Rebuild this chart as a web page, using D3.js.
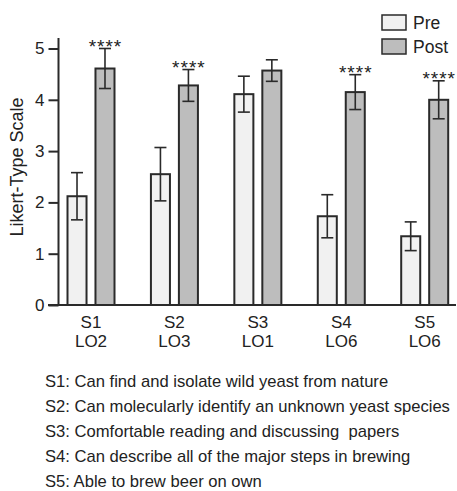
<!DOCTYPE html>
<html>
<head>
<meta charset="utf-8">
<script src="https://cdn.jsdelivr.net/npm/d3@7"></script>
<style>
  body { margin: 0; background: #fff; }
  text { font-family: "Liberation Sans", Arial, sans-serif; fill: #222; }
</style>
</head>
<body>
<div id="chart"></div>
<script>

// statements and learning outcomes
var statements = ["S1", "S2", "S3", "S4", "S5"];
var outcomes = ["LO2", "LO3", "LO1", "LO6", "LO6"];
var groups = ["Pre", "Post"];

// means and error bars
var preMean = [2.12, 2.55, 4.11, 1.73, 1.34];
var preErr = [0.46, 0.52, 0.35, 0.42, 0.28];
var postMean = [4.61, 4.28, 4.57, 4.15, 4.0];
var postErr = [0.39, 0.31, 0.21, 0.34, 0.37];
var stars = ["****", "****", "", "****", "****"];

var yTicks = [0, 1, 2, 3, 4, 5];

var notes = [
  "S1: Can find and isolate wild yeast from nature",
  "S2: Can molecularly identify an unknown yeast species",
  "S3: Comfortable reading and discussing  papers",
  "S4: Can describe all of the major steps in brewing",
  "S5: Able to brew beer on own"
];

var width = 457, height = 491;
var colors = { Pre: "#f1f1f1", Post: "#bdbdbd" };

var svg = d3.select("#chart")
    .append("svg")
        .attr("width", width)
        .attr("height", height);

// scales
var xScale = d3.scalePoint()
    .domain(statements)
    .range([91, 424.7]);

var subScale = d3.scaleBand()
    .domain(groups)
    .range([-23.5, 23.5])
    .paddingInner(0.32)
    .paddingOuter(0);

var yScale = d3.scaleLinear()
    .domain([0, 5])
    .range([305, 48.5]);

// build a flat table of bars
var bars = [];
statements.forEach(function(s, i) {
    bars.push({ s: s, g: "Pre", v: preMean[i], e: preErr[i] });
    bars.push({ s: s, g: "Post", v: postMean[i], e: postErr[i] });
});

// bars
svg.selectAll("rect.bar")
    .data(bars)
    .enter().append("rect")
        .attr("class", "bar")
        .attr("x", function(d) { return xScale(d.s) + subScale(d.g); })
        .attr("y", function(d) { return yScale(d.v); })
        .attr("width", subScale.bandwidth())
        .attr("height", function(d) { return yScale(0) - yScale(d.v); })
        .attr("fill", function(d) { return colors[d.g]; })
        .attr("stroke", "#2a2a2a")
        .attr("stroke-width", 2);

// error bars
var err = svg.selectAll("g.err")
    .data(bars)
    .enter().append("g")
        .attr("class", "err")
        .attr("transform", function(d) {
            return "translate(" + (xScale(d.s) + subScale(d.g) + subScale.bandwidth() / 2) + ",0)";
        })
        .attr("stroke", "#2a2a2a")
        .attr("stroke-width", 1.6);

err.append("line")
    .attr("x1", 0).attr("x2", 0)
    .attr("y1", function(d) { return yScale(d.v + d.e); })
    .attr("y2", function(d) { return yScale(d.v - d.e); });
err.append("line")
    .attr("x1", -6).attr("x2", 6)
    .attr("y1", function(d) { return yScale(d.v + d.e); })
    .attr("y2", function(d) { return yScale(d.v + d.e); });
err.append("line")
    .attr("x1", -6).attr("x2", 6)
    .attr("y1", function(d) { return yScale(d.v - d.e); })
    .attr("y2", function(d) { return yScale(d.v - d.e); });

// significance stars
svg.selectAll("text.star")
    .data(statements)
    .enter().append("text")
        .attr("class", "star")
        .attr("x", function(s) { return xScale(s) + subScale("Post") + subScale.bandwidth() / 2 + 0.5; })
        .attr("y", function(s, i) { return yScale(postMean[i] + postErr[i]) + 4; })
        .attr("text-anchor", "middle")
        .style("font-size", "19px")
        .style("letter-spacing", "1px")
        .text(function(s, i) { return stars[i]; });

// y axis
var yAxis = d3.axisLeft(yScale)
    .tickValues(yTicks)
    .tickSize(10)
    .tickPadding(4)
    .tickFormat(d3.format("d"));

var yg = svg.append("g")
    .attr("transform", "translate(58.5,0)")
    .call(yAxis);
yg.select(".domain").remove();
yg.append("line")
    .attr("x1", 0).attr("x2", 0)
    .attr("y1", 38).attr("y2", 305)
    .attr("stroke", "#2a2a2a")
    .attr("stroke-width", 2);
yg.selectAll(".tick line").attr("stroke", "#2a2a2a").attr("stroke-width", 2);
yg.selectAll(".tick text")
    .style("font-size", "17px")
    .style("font-family", "'Liberation Sans', Arial, sans-serif")
    .attr("fill", "#222");

// x axis line
svg.append("line")
    .attr("x1", 48).attr("x2", 456)
    .attr("y1", yScale(0)).attr("y2", yScale(0))
    .attr("stroke", "#2a2a2a")
    .attr("stroke-width", 2);

// category labels
var xl = svg.selectAll("text.xlab")
    .data(statements)
    .enter().append("text")
        .attr("class", "xlab")
        .attr("text-anchor", "middle")
        .style("font-size", "17px");
xl.append("tspan")
    .attr("x", function(s) { return xScale(s); })
    .attr("y", 328)
    .text(function(s) { return s; });
xl.append("tspan")
    .attr("x", function(s) { return xScale(s); })
    .attr("y", 347)
    .text(function(s, i) { return outcomes[i]; });

// y axis title
svg.append("text")
    .attr("transform", "translate(23,167) rotate(-90)")
    .attr("text-anchor", "middle")
    .style("font-size", "18px")
    .text("Likert-Type Scale");

// legend
var legend = svg.selectAll("g.legend")
    .data(groups)
    .enter().append("g")
        .attr("class", "legend")
        .attr("transform", function(d, i) { return "translate(382," + (15 + i * 24) + ")"; });
legend.append("rect")
    .attr("width", 24)
    .attr("height", 15)
    .attr("fill", function(d) { return colors[d]; })
    .attr("stroke", "#2a2a2a")
    .attr("stroke-width", 1.5);
legend.append("text")
    .attr("x", 31)
    .attr("y", 14)
    .style("font-size", "17.5px")
    .text(function(d) { return d; });

// footnotes
svg.selectAll("text.note")
    .data(notes)
    .enter().append("text")
        .attr("class", "note")
        .attr("x", 45)
        .attr("y", function(d, i) { return 387 + i * 24.9; })
        .style("font-size", "16.6px")
        .style("white-space", "pre")
        .text(function(d) { return d; });

</script>
</body>
</html>
